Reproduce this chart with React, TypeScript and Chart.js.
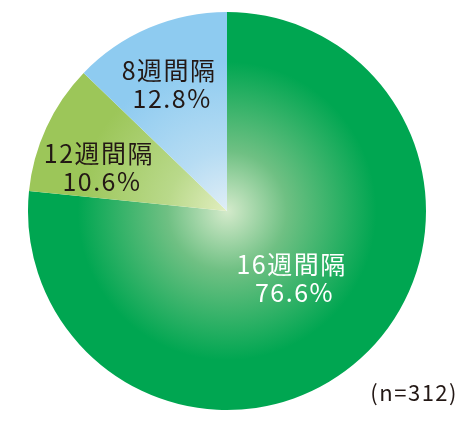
import React, { useEffect, useRef } from "react";
import { Chart, registerables } from "chart.js";

Chart.register(...registerables);

const categories = ["16週間隔", "12週間隔", "8週間隔"];
const values = [76.6, 10.6, 12.8];
const sampleNote = "(n=312)";

const baseColors = ["#00a651", "#9cc659", "#8ecbf0"];
const centerColors = ["#d4eacb", "#e2eec0", "#e0eef6"];
const midColors = ["#6fc083", "#b9d98a", "#b6dcf3"];
const labelColors = ["#ffffff", "#231815", "#231815"];
const labelRadius = [0.47, 0.68, 0.7];
const labelAngleShift = [-1.5, -6, -1.5];

const FONT = '"Noto Sans CJK JP", "Noto Sans", sans-serif';

export default function App() {
  const canvasRef = useRef<HTMLCanvasElement | null>(null);

  useEffect(() => {
    const canvas = canvasRef.current;
    if (!canvas) return;

    const labelPlugin = {
      id: "sliceLabels",
      afterDatasetsDraw(chart: any) {
        const ctx = chart.ctx;
        const meta = chart.getDatasetMeta(0);
        ctx.save();
        ctx.textAlign = "center";
        ctx.textBaseline = "middle";
        ctx.font = `400 25px ${FONT}`;
        (ctx as any).letterSpacing = "1.5px";
        meta.data.forEach((arc: any, i: number) => {
          const p = arc.getProps(["x", "y", "startAngle", "endAngle", "outerRadius"], true);
          const mid = (p.startAngle + p.endAngle) / 2 + (labelAngleShift[i] * Math.PI) / 180;
          const r = p.outerRadius * labelRadius[i];
          const x = p.x + Math.cos(mid) * r;
          const y = p.y + Math.sin(mid) * r;
          ctx.fillStyle = labelColors[i];
          ctx.fillText(categories[i], x, y - 14);
          ctx.fillText(`${values[i].toFixed(1)}%`, x + 3, y + 14);
        });
        ctx.font = `400 22px ${FONT}`;
        (ctx as any).letterSpacing = "1.5px";
        ctx.textAlign = "right";
        ctx.fillStyle = "#231815";
        ctx.fillText(sampleNote, chart.width - 15, chart.height - 29);
        ctx.restore();
      },
    };

    const chart = new Chart(canvas, {
      type: "pie",
      data: {
        labels: categories,
        datasets: [
          {
            data: values,
            borderWidth: 0,
            backgroundColor: (c: any) => {
              const i = c.dataIndex;
              const area = c.chart.chartArea;
              if (!area) return baseColors[i];
              const cx = (area.left + area.right) / 2;
              const cy = (area.top + area.bottom) / 2;
              const r = Math.min(area.right - area.left, area.bottom - area.top) / 2;
              const g = c.chart.ctx.createRadialGradient(cx, cy, 0, cx, cy, r);
              g.addColorStop(0, centerColors[i]);
              g.addColorStop(0.3, midColors[i]);
              g.addColorStop(0.75, baseColors[i]);
              g.addColorStop(1, baseColors[i]);
              return g;
            },
          },
        ],
      },
      options: {
        responsive: false,
        animation: false,
        layout: { padding: { left: 28, top: 12, right: 47, bottom: 12 } },
        plugins: {
          legend: { display: false },
          tooltip: { enabled: false },
        },
      },
      plugins: [labelPlugin],
    });

    return () => chart.destroy();
  }, []);

  return (
    <div style={{ position: "absolute", left: 0, top: 0, width: 473, height: 422, background: "#ffffff" }}>
      <canvas ref={canvasRef} width={473} height={422} style={{ width: 473, height: 422, display: "block" }} />
    </div>
  );
}
